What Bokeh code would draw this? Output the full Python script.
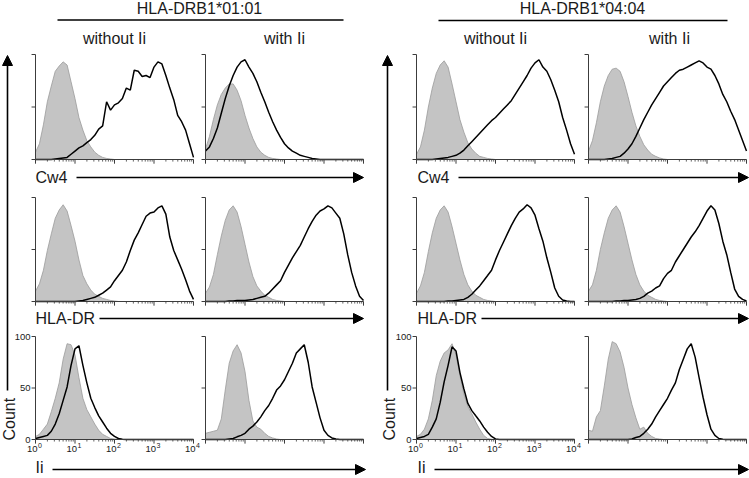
import math
from bokeh.plotting import figure
from bokeh.models import Range1d, LinearScale, Arrow, NormalHead
from bokeh.core.properties import value
from bokeh.embed import file_html
from bokeh.resources import INLINE

FONT = "Liberation Sans"

# ---------------- data ----------------
alleles = ["HLA-DRB1*01:01", "HLA-DRB1*04:04"]
conditions = ["without Ii", "with Ii"]
markers = ["Cw4", "HLA-DR", "Ii"]
count_ticks = [0, 50, 100]
count_labels = ["0", "50", "100"]
decades = [1, 10, 100, 1000, 10000]
decade_exp = ["0", "1", "2", "3", "4"]

# fluorescence channel (log-spaced bins, 10 per decade)
fluor = [1, 1.259, 1.585, 1.995, 2.512, 3.162, 3.981, 5.012, 6.310, 7.943,
         10, 12.59, 15.85, 19.95, 25.12, 31.62, 39.81, 50.12, 63.10, 79.43,
         100, 125.9, 158.5, 199.5, 251.2, 316.2, 398.1, 501.2, 631.0, 794.3,
         1000, 1259, 1585, 1995, 2512, 3162, 3981, 5012, 6310, 7943,
         10000]

# a = 01:01 without Ii, b = 01:01 with Ii, c = 04:04 without Ii, d = 04:04 with Ii
# ctrl = grey filled control histogram, stain = black line histogram (% of max)
cw4_a_ctrl = [7, 15, 33, 55, 70, 84, 89, 93, 90, 74, 58, 40, 28, 18, 12, 7, 4, 2, 1, 0.5,
              0, 0, 0, 0, 0, 0, 0, 0, 0, 0, 0, 0, 0, 0, 0, 0, 0, 0, 0, 0, 0]
cw4_a_stain = [0, 0, 0, 0, 0, 0.5, 1, 1.5, 2, 5, 8, 11, 13, 16, 19, 23, 29, 32, 55, 47,
               52, 54, 58, 68, 66, 85, 84, 79, 80, 78, 88, 93, 91, 80, 68, 57, 42, 36, 28, 15, 2]
cw4_b_ctrl = [10, 22, 38, 52, 62, 68, 72, 72, 66, 56, 42, 30, 20, 12, 7, 4, 2, 1, 0.5, 0,
              0, 0, 0, 0, 0, 0, 0, 0, 0, 0, 0, 0, 0, 0, 0, 0, 0, 0, 0, 0, 0]
cw4_b_stain = [8, 12, 20, 30, 44, 58, 70, 80, 88, 93, 95, 88, 82, 74, 64, 55, 45, 36, 28, 21,
               15, 11, 8, 6, 4, 3, 2, 1, 0.5, 0, 0, 0, 0, 0, 0, 0, 0, 0, 0, 0, 0]
cw4_c_ctrl = [5, 12, 28, 50, 68, 82, 90, 94, 88, 72, 55, 38, 26, 16, 10, 6, 3, 2, 1, 0.5,
              0, 0, 0, 0, 0, 0, 0, 0, 0, 0, 0, 0, 0, 0, 0, 0, 0, 0, 0, 0, 0]
cw4_c_stain = [0, 0, 0, 0, 0, 0.5, 1, 1.5, 2, 3, 4, 6, 9, 13, 17, 21, 25, 29, 33, 37,
               40, 44, 48, 52, 56, 62, 68, 74, 80, 87, 92, 95, 88, 84, 76, 66, 55, 40, 28, 15, 5]
cw4_d_ctrl = [8, 18, 35, 55, 70, 80, 86, 87, 84, 74, 60, 45, 32, 22, 14, 9, 5, 3, 1.5, 0.5,
              0, 0, 0, 0, 0, 0, 0, 0, 0, 0, 0, 0, 0, 0, 0, 0, 0, 0, 0, 0, 0]
cw4_d_stain = [0, 0, 0, 0, 0, 0.5, 1, 2, 3, 6, 10, 15, 22, 30, 38, 45, 52, 58, 64, 70,
               74, 78, 82, 85, 86, 88, 90, 92, 94, 92, 88, 86, 80, 72, 62, 55, 46, 38, 28, 18, 8]

dr_a_ctrl = [10, 17, 30, 49, 65, 80, 88, 93, 87, 73, 58, 40, 25, 17, 11, 7, 5, 3, 2, 1,
             0.5, 0, 0, 0, 0, 0, 0, 0, 0, 0, 0, 0, 0, 0, 0, 0, 0, 0, 0, 0, 0]
dr_a_stain = [0, 0, 0, 0, 0, 0, 0, 0, 0, 0, 0, 0.5, 1, 2, 3, 4, 6, 8, 11, 14,
              20, 25, 30, 38, 49, 59, 66, 74, 82, 85, 86, 90, 92, 84, 62, 49, 40, 31, 21, 10, 2]
dr_b_ctrl = [8, 14, 26, 45, 63, 78, 88, 92, 86, 72, 55, 38, 24, 15, 10, 6, 4, 2, 1, 0.5,
             0, 0, 0, 0, 0, 0, 0, 0, 0, 0, 0, 0, 0, 0, 0, 0, 0, 0, 0, 0, 0]
dr_b_stain = [0, 0, 0, 0, 0, 0, 0.5, 0.5, 1, 1, 1, 1.5, 2, 3, 4, 5, 8, 12, 16, 20,
              28, 35, 42, 48, 54, 62, 70, 77, 83, 87, 89, 92, 90, 85, 80, 65, 45, 28, 15, 5, 1]
dr_c_ctrl = [8, 15, 28, 48, 66, 80, 88, 92, 86, 72, 56, 40, 26, 16, 10, 6, 4, 2, 1, 0.5,
             0, 0, 0, 0, 0, 0, 0, 0, 0, 0, 0, 0, 0, 0, 0, 0, 0, 0, 0, 0, 0]
dr_c_stain = [0, 0, 0, 0, 0, 0, 0, 0, 0.5, 0.5, 1, 1.5, 2, 4, 7, 11, 15, 20, 25, 30,
              40, 49, 57, 65, 73, 80, 86, 89, 93, 90, 83, 70, 58, 42, 28, 13, 5, 1.5, 0.5, 0, 0]
dr_d_ctrl = [10, 16, 30, 50, 66, 80, 88, 92, 86, 72, 56, 40, 26, 16, 10, 6, 4, 2, 1, 0.5,
             0, 0, 0, 0, 0, 0, 0, 0, 0, 0, 0, 0, 0, 0, 0, 0, 0, 0, 0, 0, 0]
dr_d_stain = [0, 0, 0, 0, 0, 0, 0, 0.5, 0.5, 1, 1, 1.5, 2, 3, 5, 8, 10, 13, 15, 22,
              27, 30, 38, 44, 50, 56, 62, 67, 73, 80, 87, 92, 88, 75, 58, 45, 28, 12, 5, 2, 0.5]

ii_a_ctrl = [3, 5, 10, 15, 27, 40, 55, 78, 93, 92, 82, 60, 40, 29, 22, 15, 9, 5, 3, 1,
             0.5, 0, 0, 0, 0, 0, 0, 0, 0, 0, 0, 0, 0, 0, 0, 0, 0, 0, 0, 0, 0]
ii_a_stain = [1, 2, 3, 4, 8, 15, 25, 38, 51, 72, 88, 91, 72, 55, 40, 31, 23, 17, 11, 6,
              3, 1, 0.3, 0, 0, 0, 0, 0, 0, 0, 0, 0, 0, 0, 0, 0, 0, 0, 0, 0, 0]
ii_b_ctrl = [6, 7, 8, 9, 20, 48, 74, 86, 92, 84, 66, 38, 18, 12, 10, 6, 3, 1.5, 0.5, 0,
             0, 0, 0, 0, 0, 0, 0, 0, 0, 0, 0, 0, 0, 0, 0, 0, 0, 0, 0, 0, 0]
ii_b_stain = [0, 0, 0, 0, 0, 0, 0.5, 1, 2.6, 4, 6, 10, 13, 17, 22, 28, 33, 40, 48, 52,
              58, 66, 74, 84, 88, 92, 75, 51, 36, 21, 9, 4, 1.5, 0.5, 0, 0, 0, 0, 0, 0, 0]
ii_c_ctrl = [3, 5, 10, 20, 38, 62, 76, 84, 87, 93, 82, 62, 44, 32, 25, 17, 10, 4, 1, 0.3,
             0, 0, 0, 0, 0, 0, 0, 0, 0, 0, 0, 0, 0, 0, 0, 0, 0, 0, 0, 0, 0]
ii_c_stain = [1, 2, 3, 5, 12, 20, 36, 56, 72, 90, 86, 65, 49, 35, 28, 23, 18, 12, 7, 3,
              0.5, 0, 0, 0, 0, 0, 0, 0, 0, 0, 0, 0, 0, 0, 0, 0, 0, 0, 0, 0, 0]
ii_d_ctrl = [9, 8, 22, 28, 52, 78, 95, 93, 85, 70, 50, 34, 21, 10, 12, 6, 3, 1, 0.5, 0,
             0, 0, 0, 0, 0, 0, 0, 0, 0, 0, 0, 0, 0, 0, 0, 0, 0, 0, 0, 0, 0]
ii_d_stain = [0, 0, 0, 0, 0, 0, 0, 0, 0, 0, 0, 0.5, 2, 3, 6, 10, 15, 22, 28, 34,
              40, 48, 55, 68, 78, 88, 93, 80, 60, 41, 24, 10, 4, 1, 0.3, 0, 0, 0, 0, 0, 0]

panels = [
    [(cw4_a_ctrl, cw4_a_stain), (cw4_b_ctrl, cw4_b_stain), (cw4_c_ctrl, cw4_c_stain), (cw4_d_ctrl, cw4_d_stain)],
    [(dr_a_ctrl, dr_a_stain), (dr_b_ctrl, dr_b_stain), (dr_c_ctrl, dr_c_stain), (dr_d_ctrl, dr_d_stain)],
    [(ii_a_ctrl, ii_a_stain), (ii_b_ctrl, ii_b_stain), (ii_c_ctrl, ii_c_stain), (ii_d_ctrl, ii_d_stain)],
]
for row in panels:
    for a, b in row:
        assert len(a) == len(fluor) and len(b) == len(fluor)

# log10 transform of the channel axis (the panels use a log fluorescence axis)
log_fluor = [math.log10(v) for v in fluor]
log_decades = [math.log10(v) for v in decades]
log_minor = [math.log10(m * 10 ** k) for k in range(4) for m in range(2, 10)]

# ---------------- layout (pixel space of the page) ----------------
W, H = 749, 478
COL_X = [35, 205, 416, 588]
PANEL_W = 158
ROW_TOP = [54, 197, 336]
ROW_BOT = [159, 301, 439]
AXIS_COLOR = "#3c3c3c"
GREY_FILL = "#c4c4c4"
GREY_LINE = "#9a9a9a"
TEXT_COLOR = "#1a1a1a"

p = figure(width=W, height=H, x_range=Range1d(0, W), y_range=Range1d(H, 0),
           output_backend="svg", toolbar_location=None, min_border=0,
           x_axis_location=None, y_axis_location=None)
p.grid.visible = False
p.outline_line_color = None
p.background_fill_color = "white"
p.border_fill_color = "white"

for r in range(3):
    for c in range(4):
        ctrl, stain = panels[r][c]
        sub = p.subplot(
            x_source=Range1d(0, 4), y_source=Range1d(0, 100),
            x_scale=LinearScale(), y_scale=LinearScale(),
            x_target=Range1d(COL_X[c], COL_X[c] + PANEL_W),
            y_target=Range1d(ROW_BOT[r], ROW_TOP[r]),
        )
        sub.varea(x=log_fluor, y1=[0] * len(log_fluor), y2=ctrl, fill_color=GREY_FILL)
        sub.line(x=log_fluor, y=ctrl, line_color=GREY_LINE, line_width=0.8)
        sub.line(x=log_fluor, y=stain, line_color="black", line_width=1.5)
        # axes
        sub.segment(x0=[0, 0], y0=[0, 0], x1=[4, 0], y1=[0, 100],
                    line_color=AXIS_COLOR, line_width=1)
        sub.segment(x0=[-0.1] * 3, y0=count_ticks, x1=[0] * 3, y1=count_ticks,
                    line_color=AXIS_COLOR, line_width=1)
        sub.segment(x0=log_decades, y0=[0] * 5, x1=log_decades, y1=[-4] * 5,
                    line_color=AXIS_COLOR, line_width=1)
        sub.segment(x0=log_minor, y0=[0] * len(log_minor), x1=log_minor,
                    y1=[-2] * len(log_minor), line_color=AXIS_COLOR, line_width=0.8)
        if r == 2 and c in (0, 2):
            sub.text(x=log_decades, y=[0] * 5, text=["10"] * 5, text_align="right",
                     text_baseline="top", x_offset=2, y_offset=6,
                     text_font=value(FONT), text_font_size="9.5px", text_color=TEXT_COLOR)
            sub.text(x=log_decades, y=[0] * 5, text=decade_exp, text_align="left",
                     text_baseline="top", x_offset=2.5, y_offset=3.5,
                     text_font=value(FONT), text_font_size="7px", text_color=TEXT_COLOR)
            sub.text(x=[0] * 3, y=count_ticks, text=count_labels, text_align="right",
                     text_baseline="middle", x_offset=-5,
                     text_font=value(FONT), text_font_size="9.5px", text_color=TEXT_COLOR)

# ---------------- headers ----------------
p.text(x=[199, 582], y=[8, 8], text=alleles, text_align="center", text_baseline="middle",
       text_font=value(FONT), text_font_size="16px", text_color=TEXT_COLOR)
p.segment(x0=[57, 438], y0=[19.5, 20], x1=[343, 727], y1=[19.5, 20],
          line_color="black", line_width=1.5)
p.text(x=[114, 284, 495, 669], y=[38] * 4, text=conditions * 2, text_align="center",
       text_baseline="middle", text_font=value(FONT), text_font_size="16px",
       text_color=TEXT_COLOR)

# ---------------- marker axis labels with arrows ----------------
label_y = [177, 318, 467]
label_x = [35, 417]
arrow_start = {("Cw4", 0): 76, ("HLA-DR", 0): 99, ("Ii", 0): 52,
               ("Cw4", 1): 458, ("HLA-DR", 1): 481, ("Ii", 1): 434}
arrow_end = [363, 748]
for g in range(2):
    p.text(x=[label_x[g]] * 3, y=label_y, text=markers, text_align="left",
           text_baseline="middle", text_font=value(FONT), text_font_size="16px",
           text_color=TEXT_COLOR)
    for m, yy in zip(markers, label_y):
        xend = arrow_end[g] + (2 if m == "Ii" and g == 0 else 0)
        ya = yy + 2 if m == "Ii" else yy
        p.add_layout(Arrow(end=NormalHead(size=10, fill_color="black", line_color="black"),
                           x_start=arrow_start[(m, g)], y_start=ya, x_end=xend, y_end=ya,
                           line_color="black", line_width=1.6))

# ---------------- Count arrows ----------------
count_x = [7, 387]
for cx in count_x:
    p.add_layout(Arrow(end=NormalHead(size=10, fill_color="black", line_color="black"),
                       x_start=cx, y_start=390, x_end=cx, y_end=55,
                       line_color="black", line_width=1.6))
p.text(x=[cx + 1.5 for cx in count_x], y=[440, 440], text=["Count", "Count"], angle=math.pi / 2,
       text_align="left", text_baseline="middle", text_font=value(FONT),
       text_font_size="16px", text_color=TEXT_COLOR)

open("out.html", "w").write(file_html(p, INLINE))
